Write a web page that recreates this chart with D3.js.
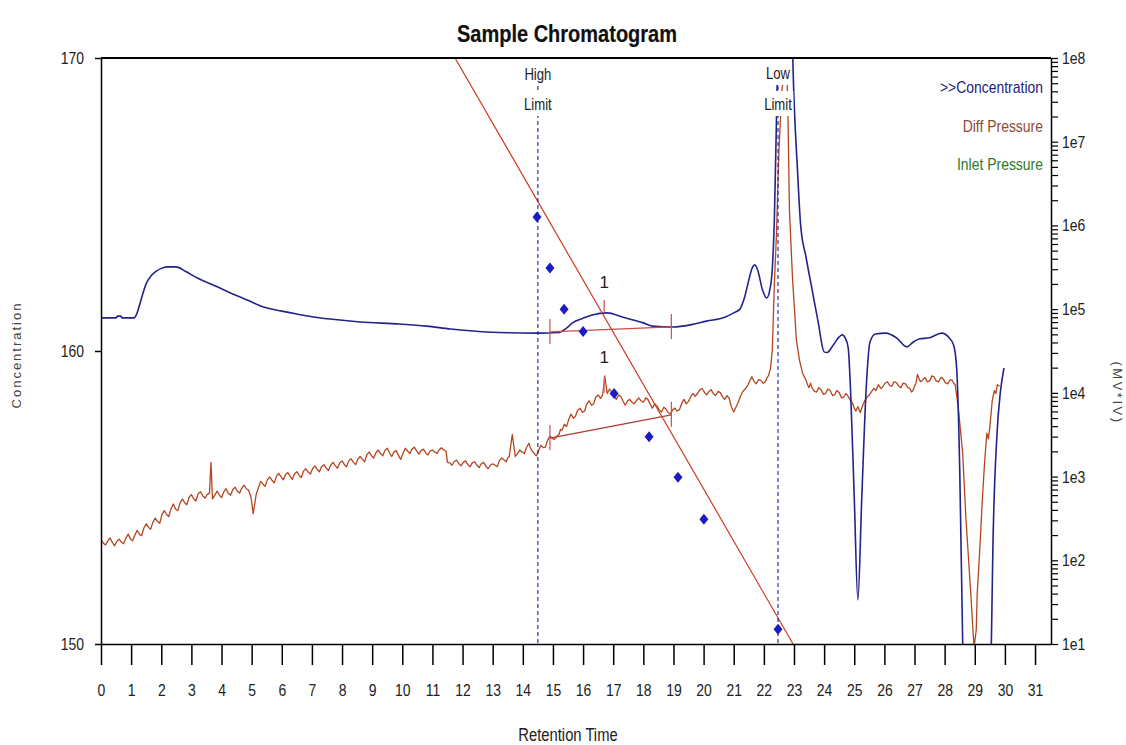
<!DOCTYPE html>
<html><head><meta charset="utf-8">
<script src="https://cdn.jsdelivr.net/npm/d3@7"></script>
<style>body{margin:0;background:#fff}svg{display:block}</style>
</head><body>
<svg id="chart" width="1126" height="745"></svg>
<script>
// ---------- DATA ----------
const chartTitle = "Sample Chromatogram";
const xAxisTitle = "Retention Time";
const leftAxisTitle = "Concentration";
const rightAxisTitle = "(MV*IV)";
const xTickValues = [0,1,2,3,4,5,6,7,8,9,10,11,12,13,14,15,16,17,18,19,20,21,22,23,24,25,26,27,28,29,30,31];
const leftTickValues = [150,160,170];
const rightTickValues = [1e1,1e2,1e3,1e4,1e5,1e6,1e7,1e8];
const rightTickLabels = ["1e1","1e2","1e3","1e4","1e5","1e6","1e7","1e8"];
const legendLabels = [">>Concentration","Diff Pressure","Inlet Pressure"];
const legendColors = ["#23237a","#8e4a3a","#2f7a2f"];

// Concentration trace [time, concentration]
const concentration = [
[0,161.13],[0.5,161.13],[0.55,161.19],[0.65,161.19],[0.7,161.13],[1.1,161.13],[1.2,161.3],[1.3,161.64],
[1.5,162.3],[1.65,162.55],[1.8,162.7],[2.0,162.82],[2.2,162.87],[2.5,162.87],[2.8,162.72],[3.2,162.49],
[3.8,162.22],[4.3,161.98],[4.9,161.72],[5.4,161.5],[6.0,161.36],[6.5,161.26],[7.0,161.17],[7.6,161.09],
[8.6,160.99],[9.9,160.92],[10.8,160.85],[11.6,160.75],[12.8,160.65],[14.5,160.61],[15.2,160.63],
[15.45,160.78],[15.65,160.96],[16.0,161.12],[16.3,161.23],[16.8,161.3],[17.3,161.16],[17.7,161.05],
[18.0,160.96],[18.3,160.85],[19.0,160.82],[19.6,160.9],[20.1,161.02],[20.7,161.15],[21.0,161.3],
[21.2,161.42],[21.35,161.8],[21.5,162.42],[21.6,162.8],[21.7,162.94],[21.8,162.75],[21.95,162.1],
[22.1,161.81],[22.2,162.1],[22.28,162.8],[22.35,164.57],[22.42,168],[22.5,172],[22.7,176],[22.9,173],
[22.96,170],[23.12,166.1],[23.22,164.3],[23.4,163.2],[23.6,162.1],[23.8,161.0],[24.0,159.97],[24.1,159.95],
[24.3,160.2],[24.5,160.48],[24.6,160.55],[24.72,160.4],[24.8,160.1],[24.88,158.6],[25.0,155.0],
[25.12,151.5],[25.25,155.0],[25.4,158.8],[25.52,160.3],[25.7,160.58],[26.05,160.61],[26.4,160.45],
[26.75,160.14],[26.95,160.3],[27.15,160.41],[27.5,160.45],[27.9,160.61],[28.15,160.45],[28.3,160.2],
[28.4,159.4],[28.5,156.0],[28.6,150.0],[28.7,146.0],[29.4,146.0],[29.55,150.0],[29.6,153.2],
[29.74,157.2],[29.85,158.6],[29.97,159.42]
];

// Diff pressure trace [time, value on left scale]
const diffPressure = [
[0,153.55],[0.08,153.44],[0.15,153.38],[0.22,153.5],[0.3,153.62],[0.38,153.46],[0.45,153.35],[0.52,153.5],[0.6,153.58],[0.68,153.47],
[0.75,153.42],[0.82,153.6],[0.9,153.75],[0.98,153.58],[1.05,153.52],[1.12,153.7],[1.2,153.88],[1.28,153.74],[1.35,153.7],[1.42,153.95],
[1.5,154.1],[1.58,153.98],[1.65,153.92],[1.72,154.15],[1.8,154.3],[1.88,154.18],[1.95,154.12],[2.02,154.4],[2.1,154.55],[2.18,154.42],
[2.25,154.35],[2.32,154.6],[2.4,154.78],[2.48,154.6],[2.55,154.55],[2.62,154.8],[2.7,154.95],[2.78,154.82],[2.85,154.75],[2.92,155.0],
[3.0,155.1],[3.08,154.95],[3.15,154.88],[3.22,155.12],[3.3,155.2],[3.38,155.05],[3.45,154.98],[3.52,155.1],[3.6,155.15],[3.65,156.2],
[3.7,154.95],[3.78,155.08],[3.85,155.22],[3.92,155.1],[4.0,155.0],[4.08,155.2],[4.15,155.3],[4.22,155.15],[4.3,155.08],[4.38,155.28],
[4.45,155.35],[4.52,155.22],[4.6,155.15],[4.68,155.33],[4.75,155.42],[4.82,155.3],[4.9,155.25],[4.98,155.0],[5.05,154.45],[5.15,155.1],
[5.22,155.32],[5.3,155.55],[5.38,155.45],[5.45,155.38],[5.52,155.6],[5.6,155.7],[5.68,155.58],[5.75,155.5],[5.82,155.72],[5.9,155.82],
[5.98,155.7],[6.05,155.6],[6.12,155.78],[6.2,155.85],[6.28,155.72],[6.35,155.62],[6.42,155.8],[6.5,155.88],[6.58,155.75],[6.65,155.68],
[6.72,155.9],[6.8,155.98],[6.88,155.86],[6.95,155.8],[7.02,155.98],[7.1,156.08],[7.18,155.95],[7.25,155.88],[7.32,156.05],[7.4,156.12],
[7.48,156.0],[7.55,155.92],[7.62,156.1],[7.7,156.2],[7.78,156.08],[7.85,156.0],[7.92,156.18],[8.0,156.25],[8.08,156.12],[8.15,156.05],
[8.22,156.25],[8.3,156.32],[8.38,156.2],[8.45,156.12],[8.52,156.3],[8.6,156.4],[8.68,156.3],[8.75,156.22],[8.82,156.45],[8.9,156.55],
[8.98,156.42],[9.05,156.35],[9.12,156.52],[9.2,156.62],[9.28,156.5],[9.35,156.42],[9.42,156.6],[9.5,156.68],[9.58,156.52],[9.65,156.4],
[9.72,156.55],[9.8,156.6],[9.88,156.42],[9.95,156.3],[10.02,156.5],[10.1,156.68],[10.18,156.58],[10.25,156.5],[10.32,156.65],[10.4,156.72],
[10.48,156.58],[10.55,156.48],[10.62,156.6],[10.7,156.65],[10.78,156.52],[10.85,156.45],[10.92,156.58],[11.0,156.62],[11.08,156.55],[11.15,156.5],
[11.22,156.62],[11.3,156.7],[11.38,156.62],[11.45,156.58],[11.5,156.2],[11.58,156.18],[11.65,156.1],[11.72,156.22],[11.8,156.28],[11.88,156.15],
[11.95,156.08],[12.02,156.2],[12.1,156.25],[12.18,156.12],[12.25,156.05],[12.32,156.18],[12.4,156.22],[12.48,156.1],[12.55,156.02],[12.62,156.15],
[12.7,156.2],[12.78,156.06],[12.85,155.98],[12.92,156.1],[13.0,156.15],[13.08,156.1],[13.15,156.05],[13.22,156.25],[13.3,156.35],[13.38,156.28],
[13.45,156.22],[13.5,156.35],[13.55,156.4],[13.65,157.15],[13.75,156.4],[13.82,156.5],[13.9,156.62],[13.98,156.55],[14.05,156.5],[14.12,156.7],
[14.2,156.85],[14.25,156.7],[14.3,156.6],[14.38,156.5],[14.45,156.42],[14.52,156.6],[14.6,156.78],[14.68,156.7],[14.75,156.72],[14.82,156.95],
[14.9,157.1],[14.98,157.02],[15.05,156.98],[15.12,157.08],[15.2,157.15],[15.25,157.32],[15.3,157.3],[15.38,157.5],[15.45,157.42],[15.52,157.65],
[15.6,157.85],[15.68,157.7],[15.75,157.78],[15.82,157.98],[15.9,158.05],[15.98,157.9],[16.05,157.95],[16.12,158.18],[16.2,158.3],[16.28,158.15],
[16.35,158.2],[16.42,158.42],[16.5,158.5],[16.58,158.38],[16.65,158.5],[16.72,159.15],[16.8,158.55],[16.88,158.7],[16.95,158.6],[17.02,158.48],
[17.1,158.35],[17.18,158.5],[17.25,158.45],[17.32,158.3],[17.4,158.15],[17.48,158.3],[17.55,158.35],[17.62,158.25],[17.7,158.2],[17.78,158.32],
[17.85,158.4],[17.92,158.3],[18.0,158.25],[18.08,158.4],[18.15,158.35],[18.22,158.2],[18.3,158.05],[18.38,158.2],[18.45,158.12],[18.52,158.0],
[18.6,157.92],[18.68,158.08],[18.75,158.02],[18.82,157.9],[18.9,157.85],[18.98,158.0],[19.05,158.05],[19.12,157.95],[19.2,158.0],[19.28,158.22],
[19.35,158.35],[19.42,158.2],[19.5,158.28],[19.58,158.45],[19.65,158.55],[19.72,158.45],[19.8,158.55],[19.88,158.68],[19.95,158.72],[20.02,158.6],
[20.1,158.5],[20.18,158.62],[20.25,158.68],[20.32,158.55],[20.4,158.48],[20.48,158.62],[20.55,158.58],[20.62,158.45],[20.7,158.35],[20.78,158.48],
[20.85,158.38],[20.92,158.1],[21.0,157.92],[21.08,158.1],[21.15,158.25],[21.22,158.45],[21.3,158.62],[21.38,158.7],[21.45,158.8],[21.52,158.95],
[21.6,159.12],[21.68,158.95],[21.75,158.88],[21.82,159.02],[21.9,159.0],[21.98,158.9],[22.05,158.95],[22.1,159.08],[22.15,159.15],[22.22,159.4],
[22.28,160.03],[22.35,162.32],[22.42,164.03],[22.5,166.86],[22.6,168.9],[22.7,169.8],[22.76,169.7],[22.8,168.0],[22.85,164.8],[22.95,162.5],
[23.08,160.38],[23.18,159.7],[23.28,159.26],[23.35,159.1],[23.4,159.0],[23.45,158.85],[23.5,158.75],[23.55,158.9],[23.6,158.74],[23.68,158.62],
[23.75,158.6],[23.82,158.75],[23.9,158.68],[23.98,158.52],[24.05,158.55],[24.12,158.7],[24.2,158.65],[24.28,158.48],[24.35,158.5],[24.42,158.65],
[24.5,158.58],[24.58,158.4],[24.65,158.42],[24.72,158.55],[24.8,158.45],[24.88,158.3],[24.95,158.2],[25.0,158.05],[25.05,157.95],[25.12,158.1],
[25.2,157.9],[25.28,158.15],[25.35,158.3],[25.42,158.42],[25.5,158.5],[25.58,158.62],[25.65,158.72],[25.72,158.65],[25.8,158.85],[25.88,158.72],
[25.95,158.78],[26.02,158.9],[26.1,158.95],[26.18,158.82],[26.25,158.8],[26.32,158.95],[26.4,158.92],[26.48,158.8],[26.55,158.75],[26.62,158.9],
[26.7,158.88],[26.78,158.75],[26.85,158.72],[26.9,158.6],[26.95,158.65],[27.0,158.8],[27.05,158.9],[27.1,159.2],[27.15,159.05],[27.2,158.95],
[27.28,159.02],[27.35,159.1],[27.42,158.95],[27.5,158.98],[27.58,159.15],[27.65,159.12],[27.72,158.98],[27.8,158.95],[27.88,159.1],[27.95,159.05],
[28.02,158.92],[28.1,158.88],[28.18,159.02],[28.25,159.0],[28.3,158.9],[28.35,158.85],[28.45,158.1],[28.6,156.5],[28.7,154.4],[28.8,152.8],
[28.88,151.5],[28.95,150.3],[28.98,149.9],[29.05,150.5],[29.08,151.7],[29.18,153.5],[29.25,154.9],[29.32,156.1],[29.4,157.2],[29.45,157.0],
[29.5,157.4],[29.58,158.3],[29.65,158.65],[29.7,158.55],[29.75,158.85],[29.82,158.8]
];

// Calibration standards [time, molecular weight] on the right log axis
const calibrationPoints = [[14.47,1.26e6],[14.9,3.1e5],[15.37,1.0e5],[16.0,5.4e4],[17.03,9.8e3],[18.19,3.0e3],[19.15,9.8e2],[20.01,3.1e2],[22.47,15]];
const calibrationFit = [[11.75,1e8],[22.97,10]];

// Limits
const limitTimes = [14.5, 22.47];
const limitLabels = [["High","Limit"],["Low","Limit"]];

// Integrated peak "1"
const peakLabels = ["1"];
const peakTimes = [16.7];
const concPeakApex = [161.3];
const diffPeakApex = [158.57];
const concBaseline = [[14.9,160.65],[18.93,160.82]];
const diffBaseline = [[14.9,157.03],[18.93,157.82]];

// ---------- DRAW ----------
const FONT = "'Liberation Sans',Arial,sans-serif";
const SQUEEZE = 0.82;
function narrow(sel, f){
  sel.each(function(){
    const len = this.getComputedTextLength();
    if (len > 0) {
      d3.select(this).attr("textLength", len*(f||SQUEEZE)).attr("lengthAdjust","spacingAndGlyphs");
    }
  });
}
const svg = d3.select("#chart");
const P = {l:101, r:1051, t:58, b:644};
const x = d3.scaleLinear().domain([0,31.53]).range([P.l,P.r]);
const yL = d3.scaleLinear().domain([150,170]).range([P.b,P.t]);
const yR = d3.scaleLog().domain([10,1e8]).range([P.b,P.t]);

svg.append("rect").attr("width",1126).attr("height",745).attr("fill","#fff");
svg.append("defs").append("clipPath").attr("id","clip").append("rect")
  .attr("x",P.l).attr("y",P.t).attr("width",P.r-P.l).attr("height",P.b-P.t);

const g = svg.append("g").attr("clip-path","url(#clip)");

const diffLine = d3.line().x(d=>x(d[0])).y(d=>yL(d[1]));
const concLine = d3.line().x(d=>x(d[0])).y(d=>yL(d[1])).curve(d3.curveMonotoneX);
const calLine = d3.line().x(d=>x(d[0])).y(d=>yR(d[1]));

g.append("path").datum(diffPressure).attr("d",diffLine).attr("fill","none")
  .attr("stroke","#b4461f").attr("stroke-width",1.3).attr("stroke-linejoin","round");
g.append("path").datum(concentration).attr("d",concLine).attr("fill","none")
  .attr("stroke","#23238c").attr("stroke-width",1.6);

// baselines
function baseline(seg, yfn, color){
  g.append("path").datum(seg).attr("d",d3.line().x(d=>x(d[0])).y(d=>yfn(d[1])))
    .attr("stroke",color).attr("stroke-width",1.3).attr("fill","none");
  seg.forEach(d=>{
    g.append("line").attr("x1",x(d[0])).attr("x2",x(d[0]))
      .attr("y1",yfn(d[1])-13).attr("y2",yfn(d[1])+12)
      .attr("stroke","#c8505a").attr("stroke-width",1.2);
  });
}
baseline(concBaseline, yL, "#d04848");
baseline(diffBaseline, yL, "#b03a30");

// peak ticks + labels
peakTimes.forEach((t,i)=>{
  const px = x(t);
  const cy = yL(concPeakApex[i]);
  g.append("line").attr("x1",px).attr("x2",px).attr("y1",cy-13).attr("y2",cy-1)
    .attr("stroke","#c84a5a").attr("stroke-width",1.2);
  g.append("text").attr("x",px).attr("y",cy-25).attr("text-anchor","middle")
    .attr("font-family",FONT).attr("font-size",17).attr("fill","#222").text(peakLabels[i]);
  const dy = yL(diffPeakApex[i]);
  g.append("line").attr("x1",px).attr("x2",px).attr("y1",dy-16).attr("y2",dy)
    .attr("stroke","#e07080").attr("stroke-width",1.2);
  g.append("text").attr("x",px).attr("y",dy-30).attr("text-anchor","middle")
    .attr("font-family",FONT).attr("font-size",17).attr("fill","#222").text(peakLabels[i]);
});

// calibration fit line and points
g.append("path").datum(calibrationFit).attr("d",calLine).attr("fill","none")
  .attr("stroke","#cc3a26").attr("stroke-width",1.2);
g.selectAll(".cal").data(calibrationPoints).enter().append("path")
  .attr("transform",d=>`translate(${x(d[0])},${yR(d[1])})`)
  .attr("d","M0,-5.5L4.5,0L0,5.5L-4.5,0Z").attr("fill","#1c1cc4");

// limit lines
limitTimes.forEach((t,i)=>{
  const lx = x(t);
  g.append("line").attr("x1",lx).attr("x2",lx).attr("y1",P.t).attr("y2",P.b)
    .attr("stroke","#1c1c9c").attr("stroke-width",1.1).attr("stroke-dasharray","4,3");
});
limitTimes.forEach((t,i)=>{
  const lx = x(t);
  const ys = [i===0?80:79, 110];
  const boxes = [[P.t+1, 85],[91, 116]];
  limitLabels[i].forEach((lab,j)=>{
    const tx = svg.append("text").attr("x",lx).attr("y",ys[j]).attr("text-anchor","middle")
      .attr("font-family",FONT).attr("font-size",16).attr("fill","#222").text(lab);
    narrow(tx);
    const bb = tx.node().getBBox();
    svg.insert("rect", () => tx.node()).attr("x",bb.x-1).attr("y",boxes[j][0]).attr("width",bb.width+2)
      .attr("height",boxes[j][1]-boxes[j][0]).attr("fill","#fff");
  });
});

// axes
const axisStyle = sel => {
  sel.selectAll("path,line").attr("stroke","#000").attr("stroke-width",1.5);
  sel.selectAll("text").attr("font-family",FONT).attr("font-size",17).attr("fill","#222");
};
const bx = svg.append("g").attr("transform",`translate(0,${P.b})`)
  .call(d3.axisBottom(x).tickValues(xTickValues).tickSize(21).tickSizeOuter(0).tickPadding(19))
  .call(axisStyle);
narrow(bx.selectAll("text"));
const lx = svg.append("g").attr("transform",`translate(${P.l},0)`)
  .call(d3.axisLeft(yL).tickValues(leftTickValues).tickSize(6).tickSizeOuter(0).tickPadding(11))
  .call(axisStyle);
narrow(lx.selectAll("text"));
const rAxis = svg.append("g").attr("transform",`translate(${P.r},0)`)
  .call(d3.axisRight(yR).tickValues(yR.ticks()).tickSize(7).tickSizeOuter(0).tickPadding(4)
    .tickFormat(v=>{const k=rightTickValues.indexOf(v); return k>=0?rightTickLabels[k]:"";}))
  .call(axisStyle);
rAxis.selectAll("line").attr("stroke-width",1.2);
narrow(rAxis.selectAll("text"));
// top frame
svg.append("line").attr("x1",P.l).attr("x2",P.r).attr("y1",P.t).attr("y2",P.t)
  .attr("stroke","#000").attr("stroke-width",2);

// titles
const tt = svg.append("text").attr("x",567).attr("y",42).attr("text-anchor","middle")
  .attr("font-family",FONT).attr("font-size",24).attr("font-weight","bold").attr("fill","#111")
  .attr("stroke","#111").attr("stroke-width",0.2).text(chartTitle);
tt.attr("textLength",220).attr("lengthAdjust","spacingAndGlyphs");
const xt = svg.append("text").attr("x",568).attr("y",741).attr("text-anchor","middle")
  .attr("font-family",FONT).attr("font-size",18).attr("fill","#222").text(xAxisTitle);
narrow(xt);
svg.append("text").attr("transform","translate(21,355) rotate(-90)").attr("text-anchor","middle")
  .attr("font-family",FONT).attr("font-size",13).attr("letter-spacing",2)
  .attr("fill","#444").text(leftAxisTitle);
svg.append("text").attr("transform","translate(1113,393) rotate(90)").attr("text-anchor","middle")
  .attr("font-family",FONT).attr("font-size",13).attr("letter-spacing",2.5)
  .attr("fill","#444").text(rightAxisTitle);

// legend
legendLabels.forEach((lab,i)=>{
  const lt = svg.append("text").attr("x",1043).attr("y",93+i*38.5).attr("text-anchor","end")
    .attr("font-family",FONT).attr("font-size",17).attr("fill",legendColors[i]).text(lab);
  narrow(lt);
});
</script>
</body></html>
